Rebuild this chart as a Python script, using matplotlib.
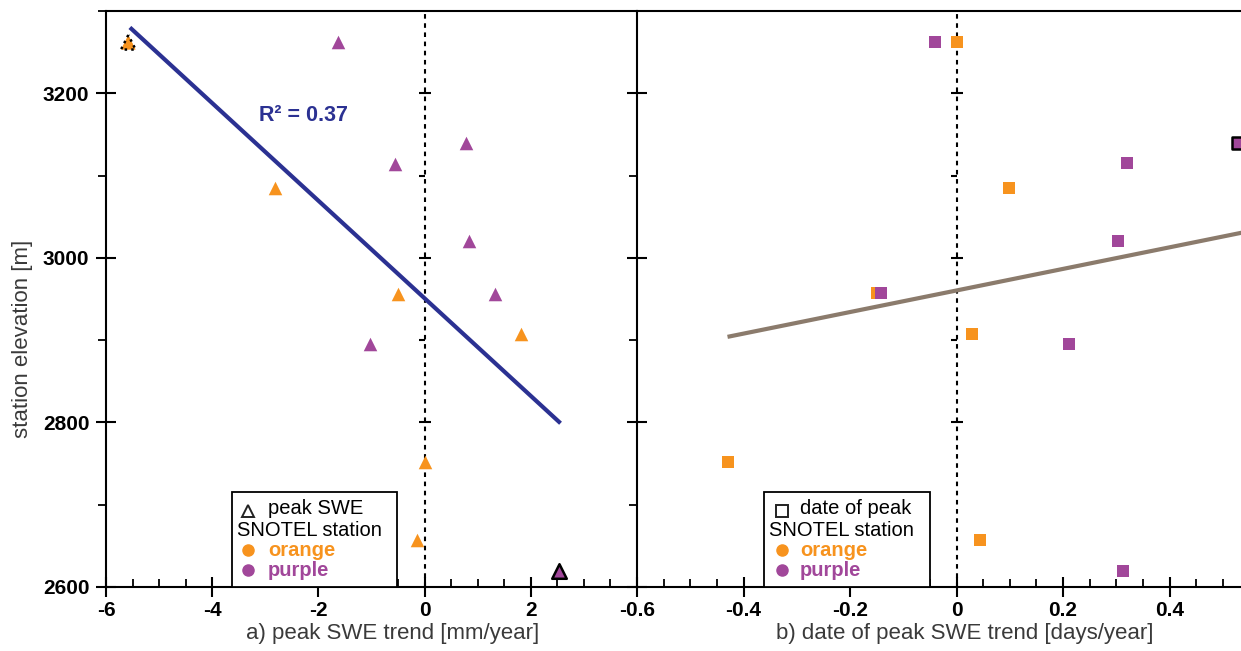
import matplotlib
matplotlib.use("Agg")
import matplotlib.pyplot as plt
from matplotlib.patches import Rectangle
from matplotlib.lines import Line2D
from matplotlib.ticker import MultipleLocator
import matplotlib.markers as mmarkers

plt.rcParams['font.family'] = ['Liberation Sans', 'DejaVu Sans']

# ---------------- data ----------------
swe_orange_x = [-5.58, -2.82, -0.51, 1.82, 0.0, -0.15]
swe_orange_y = [3262, 3085, 2956, 2908, 2752, 2657]
swe_purple_x = [-1.64, 0.78, -0.55, 0.83, 1.33, -1.03, 2.54]
swe_purple_y = [3262, 3139, 3114, 3021, 2956, 2895, 2620]

date_orange_x = [0.0, 0.098, -0.150, 0.030, -0.430, 0.045]
date_orange_y = [3262, 3085, 2957, 2908, 2752, 2657]
date_purple_x = [-0.041, 0.528, 0.321, 0.304, -0.141, 0.212, 0.312]
date_purple_y = [3262, 3140, 3115, 3021, 2957, 2895, 2620]

swe_fit_x = [-5.55, 2.56]
swe_fit_y = [3280, 2799]
date_fit_x = [-0.43, 0.6]
date_fit_y = [2904, 3039]
r2_label = "R² = 0.37"

xticks_a = [-6, -4, -2, 0, 2]
xticks_b = [-0.6, -0.4, -0.2, 0, 0.2, 0.4]
x_label_a = "a) peak SWE trend [mm/year]"
x_label_b = "b) date of peak SWE trend [days/year]"
y_label = "station elevation [m]"

# ---------------- style ----------------
ORANGE = "#F7931E"
PURPLE = "#A1479A"
BLUE = "#2B3192"
BROWN = "#8B7B6C"
GRAY = "#3a3a3a"

W, H = 1241, 651
fig = plt.figure(figsize=(W / 100, H / 100), dpi=100)

def fx(px):
    return px / W

def fy(py):
    return 1 - py / H

ax_bottom = fy(587)
ax_h = fy(11) - fy(587)
axL = fig.add_axes([fx(106), ax_bottom, fx(637) - fx(106), ax_h])
axR = fig.add_axes([fx(637), ax_bottom, fx(639), ax_h])

for ax, xlim, ticks, mnr in [(axL, (-6, 4), xticks_a, 0.5), (axR, (-0.6, 0.6), xticks_b, 0.05)]:
    ax.set_xlim(*xlim)
    ax.set_ylim(2600, 3300)
    ax.set_xticks(ticks)
    ax.set_xticklabels([f"{t:g}" for t in ticks], fontweight='bold')
    ax.xaxis.set_minor_locator(MultipleLocator(mnr))
    ax.yaxis.set_major_locator(MultipleLocator(200))
    ax.yaxis.set_minor_locator(MultipleLocator(100))
    for s in ax.spines.values():
        s.set_linewidth(1.5)
    ax.tick_params(axis='x', which='major', direction='inout', length=14, width=1.5,
                   labelsize=15, pad=3)
    ax.tick_params(axis='x', which='minor', direction='in', length=6, width=1.3)
    ax.tick_params(axis='y', which='major', direction='inout', length=14, width=1.5,
                   labelsize=15, pad=5)
    ax.tick_params(axis='y', which='minor', direction='out', length=6, width=1.3)
    for lab in ax.get_yticklabels():
        lab.set_fontweight('bold')
    # dashed zero line with its own tick marks
    ax.axvline(0, color='black', lw=1.5, ls=(0, (2.2, 2.2)), zorder=1)
    ax.plot([0, 0, 0], [2800, 3000, 3200], ls='none', marker='_', ms=9, mew=1.5,
            color='black', zorder=1)
    ax.plot([0, 0], [2900, 3100], ls='none', marker=mmarkers.TICKLEFT, ms=4.5, mew=1.5,
            color='black', zorder=1)

axL.spines['right'].set_visible(False)
axR.tick_params(axis='y', labelleft=False)

# ---------------- panel a ----------------
axL.plot(swe_fit_x, swe_fit_y, color=BLUE, lw=3, solid_capstyle='butt', zorder=2)
axL.scatter(swe_orange_x, swe_orange_y, marker='^', s=95, color=ORANGE, lw=0, zorder=3)
axL.scatter(swe_purple_x, swe_purple_y, marker='^', s=95, color=PURPLE, lw=0, zorder=3)
axL.scatter(swe_orange_x[:1], swe_orange_y[:1], marker='^', s=110, facecolor=ORANGE,
            edgecolor='black', lw=1.8, linestyle=':', zorder=4)
axL.scatter(swe_purple_x[-1:], swe_purple_y[-1:], marker='^', s=110, facecolor=PURPLE,
            edgecolor='black', lw=1.8, zorder=4)
axL.text(-2.29, 3173, r2_label, color=BLUE, fontsize=15.5, fontweight='bold',
         ha='center', va='center')

# ---------------- panel b ----------------
axR.plot(date_fit_x, date_fit_y, color=BROWN, lw=3, solid_capstyle='butt', zorder=2)
axR.scatter(date_orange_x, date_orange_y, marker='s', s=75, color=ORANGE, lw=0, zorder=3)
axR.scatter(date_purple_x, date_purple_y, marker='s', s=75, color=PURPLE, lw=0, zorder=3)
axR.scatter(date_purple_x[1:2], date_purple_y[1:2], marker='s', s=85, facecolor=PURPLE,
            edgecolor='black', lw=1.8, zorder=4)

# ---------------- legends (drawn as boxes with text) ----------------
def legend_box(x0, x1, sym, sym_x, txt_x, title):
    fig.patches.append(Rectangle((fx(x0), fy(587)), fx(x1) - fx(x0), fy(492) - fy(587),
                                 transform=fig.transFigure, fill=True, facecolor='white',
                                 edgecolor='black', lw=1.3, zorder=5))
    fig.add_artist(Line2D([fx(sym_x)], [fy(511)], transform=fig.transFigure, ls='none',
                          marker=sym, ms=9 if sym == '^' else 8, mfc='none', mec='#222222',
                          mew=1.4, zorder=6))
    fig.text(fx(txt_x), fy(509), title, fontsize=14.5, ha='left', va='center', zorder=6)
    fig.text(fx(x0 + 5), fy(530), "SNOTEL station", fontsize=14.5, ha='left', va='center',
             zorder=6)
    for yy, name, col in [(550, "orange", ORANGE), (570, "purple", PURPLE)]:
        fig.add_artist(Line2D([fx(sym_x)], [fy(yy)], transform=fig.transFigure, ls='none',
                              marker='o', ms=8, mfc=col, mec=col, zorder=6))
        fig.text(fx(txt_x), fy(yy), name, fontsize=14.5, color=col, fontweight='bold',
                 ha='left', va='center', zorder=6)

legend_box(232, 397, '^', 248, 268, "peak SWE")
legend_box(764, 930, 's', 782, 800, "date of peak")

# ---------------- labels ----------------
fig.text(fx(393), fy(633), x_label_a, fontsize=16, color=GRAY, ha='center', va='center')
fig.text(fx(965), fy(633), x_label_b, fontsize=16, color=GRAY, ha='center', va='center')
fig.text(fx(23), fy(339), y_label, fontsize=16, color=GRAY, rotation=90, ha='center',
         va='center')

fig.savefig("out.png", dpi=100)
